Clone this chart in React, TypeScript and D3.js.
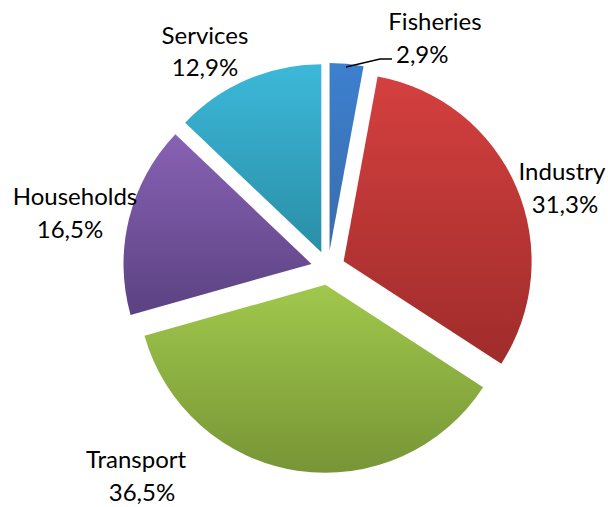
import React from "react";
import * as d3 from "d3";

const categories = ["Fisheries", "Industry", "Transport", "Households", "Services"];
const values = [2.9, 31.3, 36.5, 16.5, 12.9];
const valueLabels = ["2,9%", "31,3%", "36,5%", "16,5%", "12,9%"];

const colorTop = ["#3d80cf", "#d4403f", "#a0c84c", "#8862b4", "#3cb8d9"];
const colorBottom = ["#3a6cab", "#9f2c2b", "#779536", "#5b4282", "#2a8ea6"];

const W = 608;
const H = 507;
const cx = 328;
const cy = 268;
const R = 188;
const EXPLODE = 17;

// label layout: [x, yName, yValue]
const labelLayout: [number, number, number][] = [
  [435, 30, 63],
  [562, 180, 213],
  [136, 468, 501],
  [75, 205, 238],
  [205, 44, 76],
];
const valueDx = [0, 3, 6, -5, 0];

export default function App() {
  const pie = d3
    .pie<number>()
    .sort(null)
    .startAngle(0)
    .endAngle(2 * Math.PI)(values);
  const arc = d3.arc<d3.PieArcDatum<number>>().innerRadius(0).outerRadius(R);

  return (
    <svg width={W} height={H} style={{ position: "absolute", left: 0, top: 0 }}>
      <defs>
        {pie.map((p, i) => (
          <linearGradient key={i} id={"g" + i} x1="0" y1="0" x2="0" y2="1">
            <stop offset="0%" stopColor={colorTop[i]} />
            <stop offset="100%" stopColor={colorBottom[i]} />
          </linearGradient>
        ))}
      </defs>
      <rect width={W} height={H} fill="#fff" />
      <g transform={`translate(${cx},${cy})`}>
        {pie.map((p, i) => {
          const mid = (p.startAngle + p.endAngle) / 2;
          const dx = Math.sin(mid) * EXPLODE;
          const dy = -Math.cos(mid) * EXPLODE;
          return (
            <path
              key={i}
              d={arc(p) || ""}
              transform={`translate(${dx},${dy})`}
              fill={`url(#g${i})`}
            />
          );
        })}
      </g>
      <polyline points="346,67 380,59 392,59" fill="none" stroke="#000" strokeWidth={1.3} />
      <g fontFamily="Lato, 'Liberation Sans', sans-serif" fontSize={24} fill="#000">
        {categories.map((c, i) => {
          const [x, y1, y2] = labelLayout[i];
          return (
            <g key={c}>
              <text x={x} y={y1} textAnchor="middle">
                {c}
              </text>
              <text
                x={i === 0 ? 396 : x + valueDx[i]}
                y={y2}
                textAnchor={i === 0 ? "start" : "middle"}
              >
                {valueLabels[i]}
              </text>
            </g>
          );
        })}
      </g>
    </svg>
  );
}
